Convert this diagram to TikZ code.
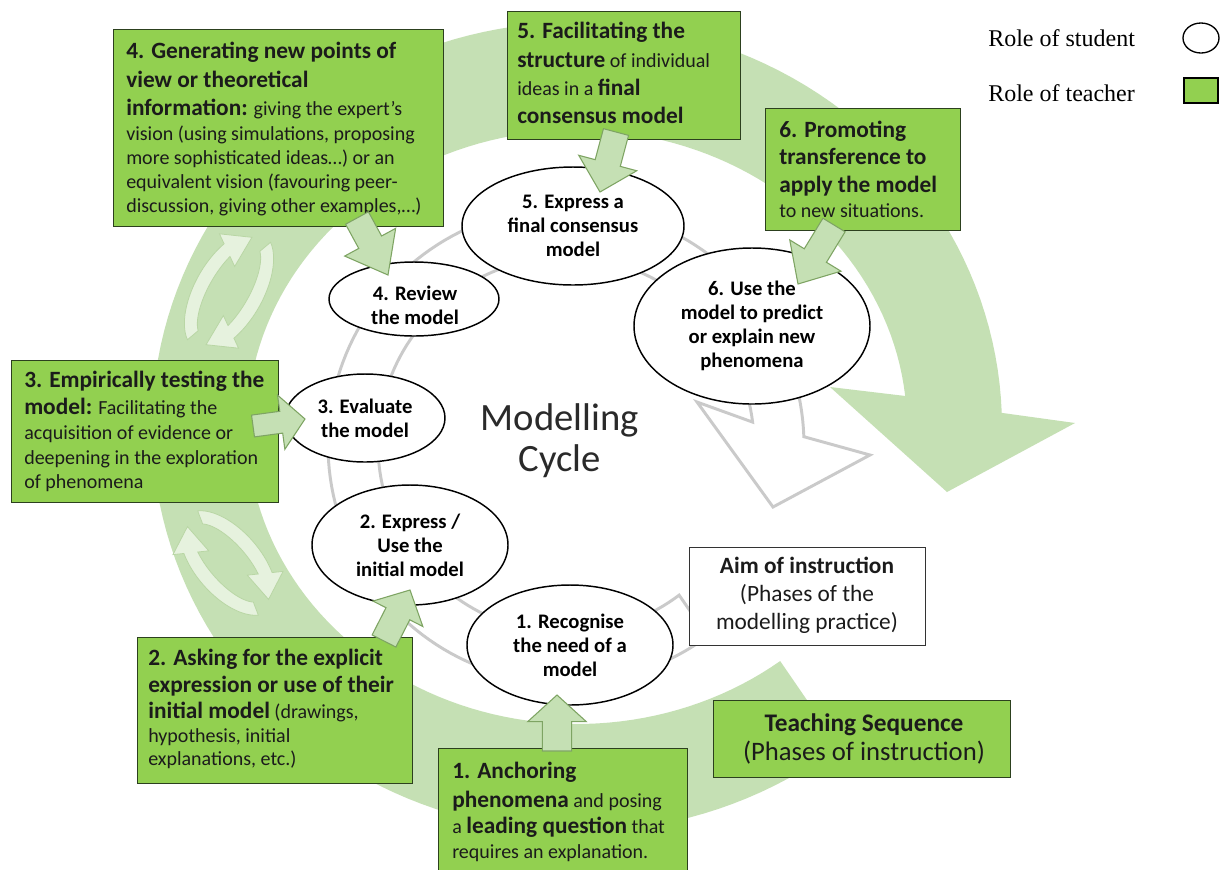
\documentclass[tikz,border=0pt]{standalone}
\usepackage{fontspec}
\setmainfont{Carlito}
\newfontfamily\legendfont{Liberation Serif}
\usetikzlibrary{calc,shapes.geometric}
\definecolor{ringgreen}{HTML}{C5E0B4}
\definecolor{boxgreen}{HTML}{92D050}
\definecolor{boxedge}{HTML}{2C401E}
\definecolor{arrowedge}{HTML}{7EA463}
\definecolor{greyring}{HTML}{CACACA}
\definecolor{iconfill}{HTML}{E6F2DE}
\definecolor{iconedge}{HTML}{B9D6A5}
\definecolor{textdark}{HTML}{1B1B1B}
\definecolor{cycletext}{HTML}{2A2A2A}
\newcommand\BoxBold{\fontsize{17.5}{21}\selectfont\bfseries}
\newcommand\BoxReg{\fontsize{15}{18}\selectfont\mdseries}
\newcommand\EllFont{\fontsize{15.5}{18}\selectfont\bfseries}
\newcommand\blockarrow[5]{%
  \coordinate (#1-base) at ($(#2)!#5!(#1)$);
  \draw[barrow] ($(#1)!#3!90:(#2)$) -- ($(#1-base)!#3!-90:(#1)$) -- ($(#1-base)!#4!-90:(#1)$) -- (#2) -- ($(#1-base)!#4!90:(#1)$) -- ($(#1-base)!#3!90:(#1)$) -- ($(#1)!#3!-90:(#2)$) -- cycle;}
\newcommand\refreshicon[5]{%
  \begin{scope}[shift={(#1,#2)}, rotate=#3]
    \filldraw[icon] plot[domain=200:305,samples=40] ({(#4+7)*cos(\x)},{(#5+7)*sin(\x)}) -- ({(#4+18)*cos(305)},{(#5+18)*sin(305)}) -- ({#4*cos(345)},{#5*sin(345)}) -- ({(#4-18)*cos(305)},{(#5-18)*sin(305)}) -- plot[domain=305:200,samples=40] ({(#4-7)*cos(\x)},{(#5-7)*sin(\x)}) -- cycle;
    \filldraw[icon] plot[domain=20:125,samples=40] ({(#4+7)*cos(\x)},{(#5+7)*sin(\x)}) -- ({(#4+18)*cos(125)},{(#5+18)*sin(125)}) -- ({#4*cos(165)},{#5*sin(165)}) -- ({(#4-18)*cos(125)},{(#5-18)*sin(125)}) -- plot[domain=125:20,samples=40] ({(#4-7)*cos(\x)},{(#5-7)*sin(\x)}) -- cycle;
  \end{scope}}
\begin{document}
\begin{tikzpicture}[x=0.75pt,y=-0.75pt,
  tbox/.style={draw=boxedge, line width=1.1pt, fill=boxgreen, rectangle, inner sep=0pt, anchor=north west},
  ell/.style={draw=black, line width=1.1pt, fill=white, ellipse, inner sep=0pt, align=center, font=\EllFont, text=black},
  ln/.style={anchor=base west, inner sep=0pt, text=textdark},
  lnc/.style={anchor=base, inner sep=0pt, text=textdark},
  barrow/.style={fill=ringgreen, draw=arrowedge, line width=0.8pt, line join=miter},
  icon/.style={fill=iconfill, draw=iconedge, line width=0.6pt}]
\useasboundingbox (0,0) rectangle (1222,869);
\fill[white] (0,0) rectangle (1222,869);

% big green cycle arrow (teaching sequence)
\fill[ringgreen] plot[domain=52:354, samples=150] ({577+330*cos(\x)}, {427+297*sin(\x)}) -- (830,387) -- (947,492) -- (1075,423) -- plot[domain=358:52, samples=150] ({577+425*cos(\x)}, {427+405*sin(\x)}) -- cycle;

% refresh icons
\refreshicon{229}{291}{60}{60}{27}
\refreshicon{228}{563}{-49}{56}{26}

% grey cycle arrow (modelling practice)
\draw[greyring, line width=2.2pt, line join=miter] plot[domain=53:353, samples=150] ({566+188*cos(\x)}, {445+188*sin(\x)}) -- (697,402) -- (773,507) -- (870,455) -- plot[domain=358:53.5, samples=150] ({566+238*cos(\x)}, {445+238*sin(\x)}) -- cycle;

% student phases
\node[ell, minimum width=154.5pt, minimum height=90pt] (e1) at (570,645) {1. Recognise\\the need of a\\model};
\node[ell, minimum width=147pt, minimum height=90pt] (e2) at (410,545) {2. Express /\\Use the\\initial model};
\node[ell, minimum width=120pt, minimum height=66pt] (e3) at (365,418) {3. Evaluate\\the model};
\node[ell, minimum width=127.5pt, minimum height=55.5pt] (e4) at (414,299) {};
\node[align=center, font=\EllFont, inner sep=0pt] (e4t) at (415,305) {4. Review\\the model};
\node[ell, minimum width=166.5pt, minimum height=88.5pt] (e5) at (573,226) {5. Express a\\final consensus\\model};
\node[ell, minimum width=177pt, minimum height=117pt] (e6) at (752,326) {6. Use the\\model to predict\\or explain new\\phenomena};

% centre title
\node[anchor=base, inner sep=0pt, text=cycletext, font=\fontsize{29}{34}\selectfont] (mc1) at (560,430) {Modelling};
\node[anchor=base, inner sep=0pt, text=cycletext, font=\fontsize{29}{34}\selectfont] (mc2) at (560,471) {Cycle};

% aim of instruction box
\node[draw=black!80, line width=1pt, fill=white, rectangle, inner sep=0pt, anchor=north west, minimum width=177pt, minimum height=73.5pt] (aim) at (689,547) {};
\node[lnc, font=\BoxBold] (aim1) at (807,573) {Aim of instruction};
\node[lnc, font=\fontsize{17.5}{21}\selectfont] (aim2) at (807,601) {(Phases of the};
\node[lnc, font=\fontsize{17.5}{21}\selectfont] (aim3) at (807,629) {modelling practice)};

% teacher boxes
\node[tbox, minimum width=247.5pt, minimum height=147.75pt] (b4) at (113,29) {};
\node[ln] (b4a) at (126,58) {\BoxBold 4. Generating new points of};
\node[ln] (b4b) at (126,87) {\BoxBold view or theoretical};
\node[ln] (b4c) at (126,115) {\BoxBold information:\BoxReg{} giving the expert’s};
\node[ln] (b4d) at (126,140) {\BoxReg vision (using simulations, proposing};
\node[ln] (b4e) at (126,164) {\BoxReg more sophisticated ideas…) or an};
\node[ln] (b4f) at (126,188) {\BoxReg equivalent vision (favouring peer-};
\node[ln] (b4g) at (126,212) {\BoxReg discussion, giving other examples,…)};

\node[tbox, minimum width=174.75pt, minimum height=96pt] (b5) at (507,11) {};
\node[ln] (b5a) at (517,38) {\BoxBold 5. Facilitating the};
\node[ln] (b5b) at (517,67) {\BoxBold structure\BoxReg{} of individual};
\node[ln] (b5c) at (517,95) {\BoxReg ideas in a \BoxBold final};
\node[ln] (b5d) at (517,123) {\BoxBold consensus model};

\node[tbox, minimum width=146.25pt, minimum height=91.5pt] (b6) at (765,108) {};
\node[ln] (b6a) at (779,137) {\BoxBold 6. Promoting};
\node[ln] (b6b) at (779,164) {\BoxBold transference to};
\node[ln] (b6c) at (779,192) {\BoxBold apply the model};
\node[ln] (b6d) at (779,217) {\BoxReg to new situations.};

\node[tbox, minimum width=200.25pt, minimum height=106.5pt] (b3) at (11,360) {};
\node[ln] (b3a) at (24,387) {\BoxBold 3. Empirically testing the};
\node[ln] (b3b) at (24,414) {\BoxBold model:\BoxReg{} Facilitating the};
\node[ln] (b3c) at (24,439) {\BoxReg acquisition of evidence or};
\node[ln] (b3d) at (24,464) {\BoxReg deepening in the exploration};
\node[ln] (b3e) at (24,488) {\BoxReg of phenomena};

\node[tbox, minimum width=206.25pt, minimum height=109.5pt] (b2) at (137,637) {};
\node[ln] (b2a) at (148,665) {\BoxBold 2. Asking for the explicit};
\node[ln] (b2b) at (148,692) {\BoxBold expression or use of their};
\node[ln] (b2c) at (148,718) {\BoxBold initial model\BoxReg{} (drawings,};
\node[ln] (b2d) at (148,742) {\BoxReg hypothesis, initial};
\node[ln] (b2e) at (148,765) {\BoxReg explanations, etc.)};

\node[tbox, minimum width=186.75pt, minimum height=96pt] (b1) at (438,748) {};
\node[ln] (b1a) at (452,778) {\BoxBold 1. Anchoring};
\node[ln] (b1b) at (452,807) {\BoxBold phenomena\BoxReg{} and posing};
\node[ln] (b1c) at (452,833) {\BoxReg a \BoxBold leading question\BoxReg{} that};
\node[ln] (b1d) at (452,858) {\BoxReg requires an explanation.};

\node[tbox, minimum width=222.75pt, minimum height=57.75pt] (teach) at (713,700) {};
\node[lnc, font=\fontsize{19}{22}\selectfont\bfseries] (teach1) at (864,731) {Teaching Sequence};
\node[lnc, font=\fontsize{20}{24}\selectfont] (teach2) at (864,760) {(Phases of instruction)};

% block arrows from teacher boxes to student phases
\coordinate (a4s) at (357,218); \coordinate (a4t) at (388,275);
\blockarrow{a4s}{a4t}{9.75pt}{21.75pt}{28pt}
\coordinate (a5s) at (616,132); \coordinate (a5t) at (600,192);
\blockarrow{a5s}{a5t}{9.75pt}{22.5pt}{22.5pt}
\coordinate (a6s) at (834,225); \coordinate (a6t) at (798,284);
\blockarrow{a6s}{a6t}{9.75pt}{22.5pt}{25pt}
\coordinate (a3s) at (253,426); \coordinate (a3t) at (305,419);
\blockarrow{a3s}{a3t}{8.25pt}{20.5pt}{18pt}
\coordinate (a2s) at (384,641); \coordinate (a2t) at (410,590);
\blockarrow{a2s}{a2t}{10pt}{21pt}{20pt}
\coordinate (a1s) at (557,751); \coordinate (a1t) at (557,695);
\blockarrow{a1s}{a1t}{11pt}{22pt}{20pt}

% legend
\node[anchor=base west, inner sep=0pt, font=\legendfont\fontsize{18}{20}\selectfont] (legs) at (988,46) {Role of student};
\node[draw=black, line width=1pt, ellipse, minimum width=27pt, minimum height=22.5pt, inner sep=0pt] (legc) at (1201,38) {};
\node[anchor=base west, inner sep=0pt, font=\legendfont\fontsize{18}{20}\selectfont] (legt) at (988,101) {Role of teacher};
\node[draw=black, fill=boxgreen, line width=1pt, rectangle, minimum width=25.5pt, minimum height=18.75pt, inner sep=0pt] (legr) at (1201,90.5) {};
\end{tikzpicture}
\end{document}
